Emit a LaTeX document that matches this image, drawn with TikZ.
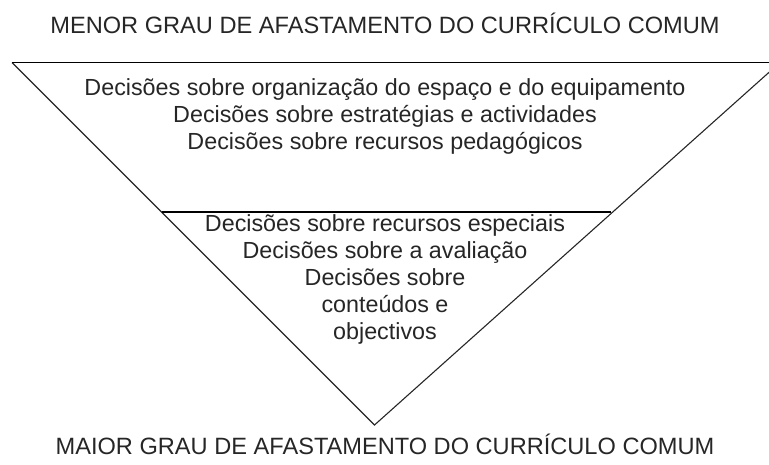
\documentclass[tikz,border=0pt]{standalone}
\usepackage{fontspec}
\setmainfont{Liberation Sans}
\begin{document}
\begin{tikzpicture}[x=1pt,y=-1pt,
  lbl/.style={inner sep=0pt,anchor=base,font=\fontsize{23.3}{27}\selectfont,text=black!85},
  ttl/.style={inner sep=0pt,anchor=base,font=\fontsize{23.6}{27}\selectfont,text=black!85},
  edge/.style={draw=black!85,line width=1.1pt},
  bar/.style={draw=black,line width=1.6pt}]
\useasboundingbox (0,0) rectangle (769,464);
\begin{scope}
\clip (0,0) rectangle (769,464);
\coordinate (tl) at (12,62.5);
\coordinate (tr) at (780,62.5);
\coordinate (ap) at (374.5,425);
\coordinate (ml) at (161.5,212);
\coordinate (mr) at (611,212);
\draw[edge,line join=miter] (tl) -- (ap) -- (tr);
\draw[bar] (tl) -- (tr);
\draw[bar] (ml) -- (mr);
\end{scope}
\node[ttl] (top) at (385,33.3) {MENOR GRAU DE AFASTAMENTO DO CURRÍCULO COMUM};
\node[ttl] (bot) at (385,454) {MAIOR GRAU DE AFASTAMENTO DO CURRÍCULO COMUM};
\node[lbl] (u1) at (385,95.5) {Decisões sobre organização do espaço e do equipamento};
\node[lbl] (u2) at (385,122) {Decisões sobre estratégias e actividades};
\node[lbl] (u3) at (385,149) {Decisões sobre recursos pedagógicos};
\node[lbl] (l1) at (385,231.5) {Decisões sobre recursos especiais};
\node[lbl] (l2) at (385,258.5) {Decisões sobre a avaliação};
\node[lbl] (l3) at (385,285.5) {Decisões sobre};
\node[lbl] (l4) at (385,312.5) {conteúdos e};
\node[lbl] (l5) at (385,339) {objectivos};
\end{tikzpicture}
\end{document}
